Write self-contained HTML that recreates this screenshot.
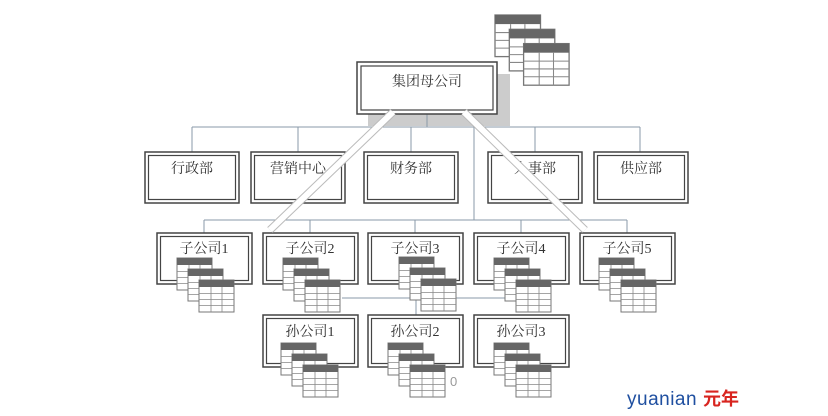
<!DOCTYPE html>
<html><head><meta charset="utf-8"><style>
html,body{margin:0;padding:0;background:#fff;}
svg text{font-family:"Liberation Serif","Noto Serif CJK SC",serif;font-size:14px;fill:#333;}
</style></head><body>
<svg width="828" height="411" viewBox="0 0 828 411" xmlns="http://www.w3.org/2000/svg">
<defs>
<g id="tb">
<rect x="0" y="0" width="35" height="32" fill="#fff" stroke="#777" stroke-width="1"/>
<rect x="0" y="0" width="35" height="7" fill="#666"/>
<path d="M0 13.5H35M0 19.5H35M0 25.5H35M12 7V32M23 7V32" stroke="#888" stroke-width="0.8" fill="none"/>
</g>
<g id="tbs">
<use href="#tb" x="0" y="0"/><use href="#tb" x="11" y="11"/><use href="#tb" x="22" y="22"/>
</g>
</defs>
<rect x="368" y="74" width="142" height="52" fill="#ccc"/>
<g stroke="#8a9aa8" stroke-width="1" fill="none">
<path d="M192 127H640"/>
<path d="M192 127V152M298 127V152M411 127V152M535 127V152M640 127V152M427 114V127"/>
<path d="M474 127V220"/>
<path d="M204 220H627"/>
<path d="M204 220V233M310 220V233M415 220V233M521 220V233M627 220V233"/>
<path d="M342 298H505M416 286V315"/>
</g>
<g transform="translate(495,15) scale(1.3)"><use href="#tbs"/></g>
<g fill="#fff" stroke="#444">
<rect x="357" y="62" width="140" height="52" stroke-width="1.5"/>
<rect x="361" y="66" width="132" height="44" stroke-width="1.2"/>
</g>
<text x="427" y="86" text-anchor="middle">集团母公司</text>

<g fill="#fff" stroke="#444">
<rect x="145" y="152" width="94" height="51" stroke-width="1.5"/><rect x="148.5" y="155.5" width="87" height="44" stroke-width="1.2"/>
<rect x="251" y="152" width="94" height="51" stroke-width="1.5"/><rect x="254.5" y="155.5" width="87" height="44" stroke-width="1.2"/>
<rect x="364" y="152" width="94" height="51" stroke-width="1.5"/><rect x="367.5" y="155.5" width="87" height="44" stroke-width="1.2"/>
<rect x="488" y="152" width="94" height="51" stroke-width="1.5"/><rect x="491.5" y="155.5" width="87" height="44" stroke-width="1.2"/>
<rect x="594" y="152" width="94" height="51" stroke-width="1.5"/><rect x="597.5" y="155.5" width="87" height="44" stroke-width="1.2"/>
</g>
<text x="192" y="173" text-anchor="middle">行政部</text>
<text x="298" y="173" text-anchor="middle">营销中心</text>
<text x="411" y="173" text-anchor="middle">财务部</text>
<text x="535" y="173" text-anchor="middle">人事部</text>
<text x="641" y="173" text-anchor="middle">供应部</text>

<g fill="#fff" stroke="#444">
<rect x="157" y="233" width="95" height="51" stroke-width="1.5"/><rect x="160.5" y="236.5" width="88" height="44" stroke-width="1.2"/>
<rect x="263" y="233" width="95" height="51" stroke-width="1.5"/><rect x="266.5" y="236.5" width="88" height="44" stroke-width="1.2"/>
<rect x="368" y="233" width="95" height="51" stroke-width="1.5"/><rect x="371.5" y="236.5" width="88" height="44" stroke-width="1.2"/>
<rect x="474" y="233" width="95" height="51" stroke-width="1.5"/><rect x="477.5" y="236.5" width="88" height="44" stroke-width="1.2"/>
<rect x="580" y="233" width="95" height="51" stroke-width="1.5"/><rect x="583.5" y="236.5" width="88" height="44" stroke-width="1.2"/>
<rect x="263" y="315" width="95" height="52" stroke-width="1.5"/><rect x="266.5" y="318.5" width="88" height="45" stroke-width="1.2"/>
<rect x="368" y="315" width="95" height="52" stroke-width="1.5"/><rect x="371.5" y="318.5" width="88" height="45" stroke-width="1.2"/>
<rect x="474" y="315" width="95" height="52" stroke-width="1.5"/><rect x="477.5" y="318.5" width="88" height="45" stroke-width="1.2"/>
</g>
<text x="204" y="253" text-anchor="middle">子公司1</text>
<text x="310" y="253" text-anchor="middle">子公司2</text>
<text x="415" y="253" text-anchor="middle">子公司3</text>
<text x="521" y="253" text-anchor="middle">子公司4</text>
<text x="627" y="253" text-anchor="middle">子公司5</text>
<text x="310" y="336" text-anchor="middle">孙公司1</text>
<text x="415" y="336" text-anchor="middle">孙公司2</text>
<text x="521" y="336" text-anchor="middle">孙公司3</text>

<use href="#tbs" x="177" y="258"/>
<use href="#tbs" x="283" y="258"/>
<use href="#tbs" x="399" y="257"/>
<use href="#tbs" x="494" y="258"/>
<use href="#tbs" x="599" y="258"/>
<use href="#tbs" x="281" y="343"/>
<use href="#tbs" x="388" y="343"/>
<use href="#tbs" x="494" y="343"/>
<text x="450" y="386" style="font-family:'Liberation Sans',sans-serif;font-size:13px;fill:#999">0</text>

<g stroke-linecap="butt">
<path d="M393 112L270 230" stroke="#bbb" stroke-width="8"/>
<path d="M393 112L270 230" stroke="#fff" stroke-width="6"/>
<path d="M464 112L585 230" stroke="#bbb" stroke-width="8"/>
<path d="M464 112L585 230" stroke="#fff" stroke-width="6"/>
</g>

<text x="627" y="405" style="font-family:'Liberation Sans',sans-serif;font-size:19px;fill:#1f4fa0;letter-spacing:0.5px">yuanian</text>
<text x="703" y="405" style="font-family:'Noto Sans CJK SC',sans-serif;font-size:18px;fill:#d8241f;font-weight:bold">元年</text>
</svg>
</body></html>
